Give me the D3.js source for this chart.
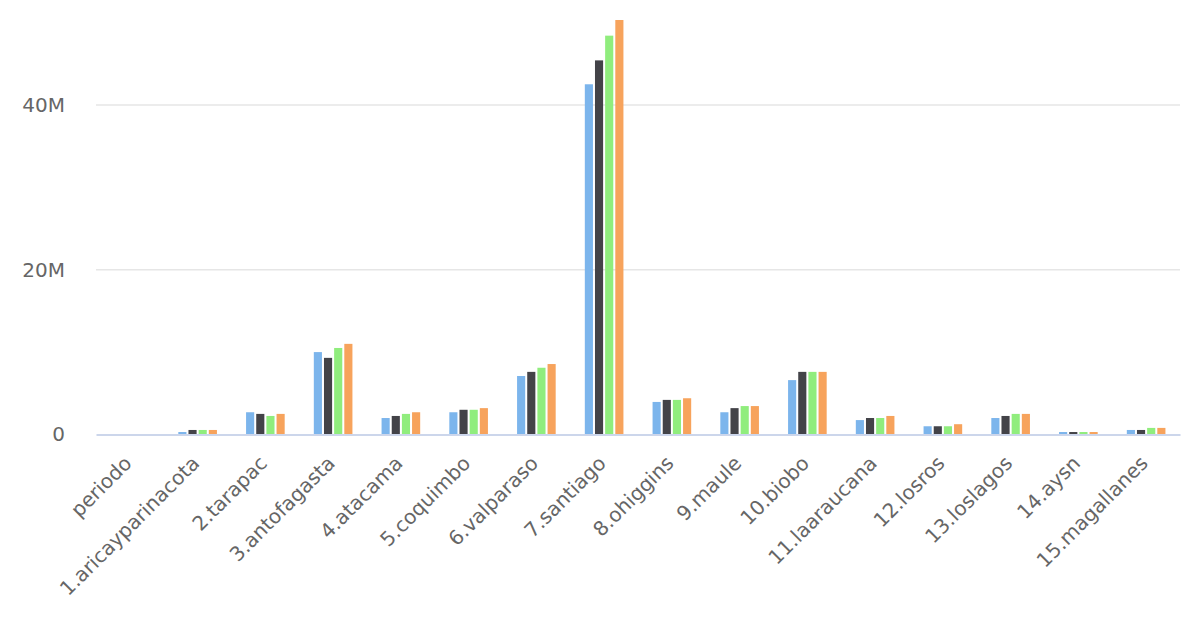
<!DOCTYPE html>
<html>
<head>
<meta charset="utf-8">
<script src="https://cdn.jsdelivr.net/npm/d3@7.9.0/dist/d3.min.js"></script>
<style>
  body { margin: 0; background: #fff; }
  #chart text { font-family: "DejaVu Sans", sans-serif; }
</style>
</head>
<body>
<div id="chart"></div>
<script>
// categories (region names as they appear, accents dropped in the source)
const categories = ["periodo", "1.aricayparinacota", "2.tarapac", "3.antofagasta", "4.atacama",
  "5.coquimbo", "6.valparaso", "7.santiago", "8.ohiggins", "9.maule", "10.biobo",
  "11.laaraucana", "12.losros", "13.loslagos", "14.aysn", "15.magallanes"];

// four series, values in millions
const serie1 = [0, 0.3, 2.7, 10.0, 2.0, 2.7, 7.1, 42.5, 3.95, 2.7, 6.6, 1.75, 1.0, 2.0, 0.3, 0.55];
const serie2 = [0, 0.55, 2.5, 9.3, 2.25, 3.0, 7.6, 45.4, 4.2, 3.2, 7.6, 2.0, 1.0, 2.25, 0.3, 0.55];
const serie3 = [0, 0.55, 2.25, 10.5, 2.5, 3.0, 8.1, 48.4, 4.2, 3.45, 7.6, 2.0, 1.0, 2.5, 0.3, 0.8];
const serie4 = [0, 0.55, 2.5, 11.0, 2.7, 3.2, 8.55, 50.3, 4.4, 3.45, 7.6, 2.25, 1.25, 2.5, 0.3, 0.8];

const seriesNames = ["Serie 1", "Serie 2", "Serie 3", "Serie 4"];
const seriesValues = [serie1, serie2, serie3, serie4];
const yTicks = [0, 20e6, 40e6];

const colors = ["#7cb5ec", "#434348", "#90ed7d", "#f7a35c"];

const margin = { top: 20, right: 20, bottom: 205.5, left: 96 };
const width = 1200 - margin.left - margin.right;
const height = 640 - margin.top - margin.bottom;

const svg = d3.select("#chart")
  .append("svg")
  .attr("width", 1200)
  .attr("height", 640)
  .append("g")
  .attr("transform", `translate(${margin.left},${margin.top})`);

// build rows for the grouped bars
const chartData = categories.map((cat, i) => {
  const obj = { cat };
  seriesNames.forEach((s, j) => { obj[s] = seriesValues[j][i] * 1e6; });
  return obj;
});

const x0 = d3.scaleBand().domain(categories).range([0, width]).paddingInner(0).paddingOuter(0);
// highcharts-like group padding 0.2, point padding 0.1
const groupPad = x0.bandwidth() * 0.2;
const x1 = d3.scaleBand().domain(seriesNames)
  .range([groupPad, x0.bandwidth() - groupPad])
  .paddingInner(0.2).paddingOuter(0.1);
const y = d3.scaleLinear()
  .domain([0, d3.max(chartData, d => d3.max(seriesNames, s => d[s]))])
  .range([height, 0]);

// gridlines
svg.append("g")
  .selectAll("line")
  .data(yTicks.filter(t => t > 0))
  .enter()
  .append("line")
  .attr("x1", 0)
  .attr("x2", width)
  .attr("y1", d => y(d))
  .attr("y2", d => y(d))
  .attr("stroke", "#e6e6e6")
  .attr("stroke-width", 1.5);

// y axis labels
const yAxis = svg.append("g")
  .call(d3.axisLeft(y).tickValues(yTicks).tickFormat(d3.format("~s")).tickSize(0).tickPadding(31));
yAxis.select(".domain").remove();
yAxis.selectAll("text")
  .attr("fill", "#666666")
  .style("font-size", "20px");

// bars
svg.append("g")
  .selectAll("g")
  .data(chartData)
  .enter()
  .append("g")
  .attr("transform", d => `translate(${x0(d.cat)},0)`)
  .selectAll("rect")
  .data(d => seriesNames.map(key => ({ key, value: d[key] })))
  .enter()
  .append("rect")
  .attr("x", d => x1(d.key))
  .attr("y", d => y(d.value))
  .attr("width", x1.bandwidth())
  .attr("height", d => height - y(d.value))
  .attr("fill", (d, i) => colors[i]);

// x axis
const xAxis = svg.append("g")
  .attr("transform", `translate(0,${height})`)
  .call(d3.axisBottom(x0).tickSize(0).tickPadding(0));
xAxis.select(".domain")
  .attr("stroke", "#ccd6eb")
  .attr("stroke-width", 2);
xAxis.selectAll("text")
  .attr("fill", "#666666")
  .style("font-size", "20px")
  .attr("text-anchor", "end")
  .attr("dy", 0)
  .attr("y", 0)
  .attr("transform", "translate(3,30) rotate(-45)");
</script>
</body>
</html>
